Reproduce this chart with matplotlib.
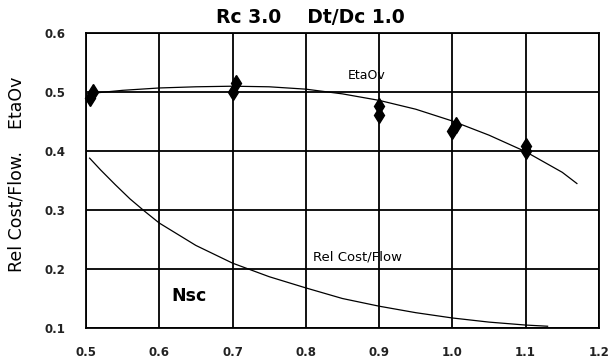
import matplotlib
matplotlib.use("Agg")
import matplotlib.pyplot as plt

# EtaOv curve
eta_x = [0.50, 0.55, 0.60, 0.65, 0.70, 0.75, 0.80, 0.85, 0.90, 0.95, 1.00, 1.05, 1.10, 1.15, 1.17]
eta_y = [0.497, 0.503, 0.507, 0.509, 0.510, 0.509, 0.505, 0.497, 0.486, 0.471, 0.451, 0.427, 0.399, 0.364, 0.345]

# Rel Cost/Flow curve
cost_x = [0.505, 0.52, 0.54, 0.56, 0.58, 0.60, 0.65, 0.70, 0.75, 0.80, 0.85, 0.90, 0.95, 1.00, 1.05, 1.10, 1.13]
cost_y = [0.388, 0.368, 0.343, 0.319, 0.298, 0.278, 0.240, 0.210, 0.187, 0.168, 0.150, 0.137, 0.126, 0.117, 0.110, 0.105, 0.103]

# diamond markers
pt_x = [0.505, 0.51, 0.70, 0.705, 0.90, 0.90, 1.00, 1.005, 1.10, 1.10]
pt_y = [0.490, 0.500, 0.500, 0.515, 0.462, 0.477, 0.434, 0.444, 0.400, 0.408]

x_ticks = [0.5, 0.6, 0.7, 0.8, 0.9, 1.0, 1.1, 1.2]
x_tick_labels = ["0.5", "0.6", "0.7", "0.8", "0.9", "1.0", "1.1", "1.2"]
y_ticks = [0.1, 0.2, 0.3, 0.4, 0.5, 0.6]
y_tick_labels = ["0.1", "0.2", "0.3", "0.4", "0.5", "0.6"]

fig = plt.figure(figsize=(6.08, 3.64), dpi=100)
ax = fig.add_axes([0.1414, 0.0989, 0.8436, 0.8101])
ax.set_xlim(0.5, 1.2)
ax.set_ylim(0.1, 0.6)

ax.set_xticks(x_ticks)
ax.set_xticklabels(x_tick_labels, fontsize=8.5, fontweight='bold')
ax.set_yticks(y_ticks)
ax.set_yticklabels(y_tick_labels, fontsize=8.5, fontweight='bold')
ax.tick_params(axis='x', length=0, pad=13, colors='#222222')
ax.tick_params(axis='y', length=0, pad=15, colors='#222222')
ax.grid(True, color='black', linewidth=1.3)
for s in ax.spines.values():
    s.set_linewidth(1.3)
    s.set_color('black')

ax.plot(eta_x, eta_y, color='black', linewidth=0.9)
ax.plot(cost_x, cost_y, color='black', linewidth=0.9)
ax.plot(pt_x, pt_y, linestyle='none', marker='d', markersize=8, color='black', zorder=5, clip_on=False)

ax.text(0.857, 0.522, "EtaOv", fontsize=9)
ax.text(0.81, 0.215, "Rel Cost/Flow", fontsize=9.5)
ax.text(0.617, 0.145, "Nsc", fontsize=12.5, fontweight='bold')

fig.text(0.51, 0.952, "Rc 3.0    Dt/Dc 1.0", fontsize=13.5, fontweight='bold', ha='center', va='center')
fig.text(0.027, 0.52, "Rel Cost/Flow.    EtaOv", fontsize=12.5, rotation=90, ha='center', va='center')

fig.savefig("out.png", dpi=100)
